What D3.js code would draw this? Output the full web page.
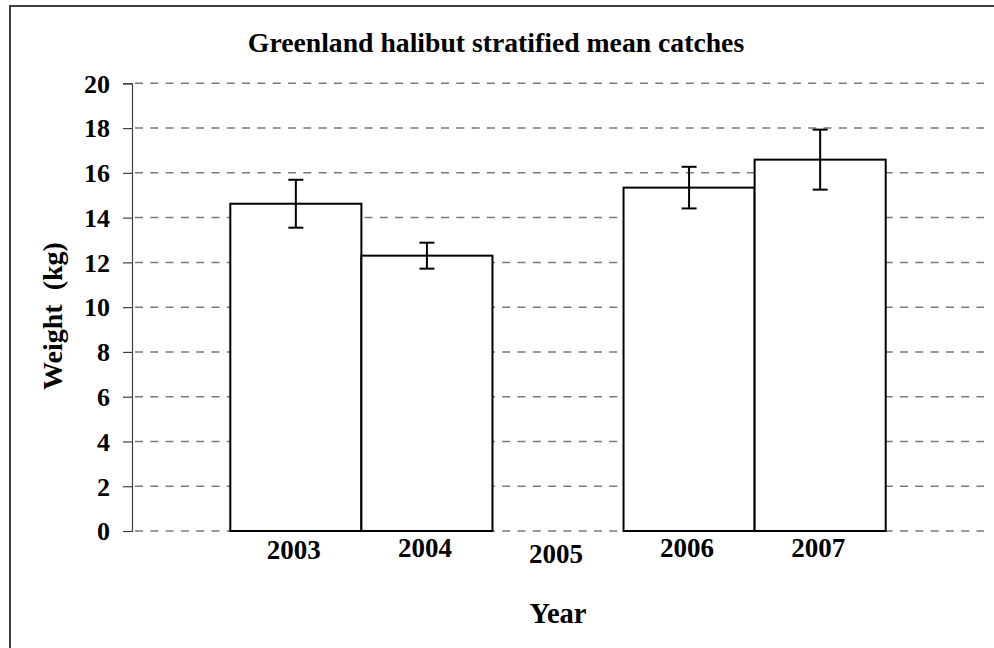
<!DOCTYPE html>
<html>
<head>
<meta charset="utf-8">
<script src="https://cdn.jsdelivr.net/npm/d3@7"></script>
<style>
  html, body { margin: 0; padding: 0; background: #fff; }
  svg { display: block; }
  text { font-family: "Liberation Serif", "Times New Roman", serif; font-weight: bold; fill: #000; }
</style>
</head>
<body>
<svg id="chart" width="994" height="648"></svg>
<script>
// Survey years and stratified mean catch weight (kg) with error (± kg)
const years = ["2003", "2004", "2005", "2006", "2007"];
const meanWeight = [14.62, 12.30, null, 15.34, 16.59];
const errorWeight = [1.07, 0.58, null, 0.93, 1.34];
const yTicks = [0, 2, 4, 6, 8, 10, 12, 14, 16, 18, 20];

const chartTitle = "Greenland halibut stratified mean catches";
const yTitle = "Weight  (kg)";
const xTitle = "Year";

const svg = d3.select("#chart");

// outer frame
svg.append("rect")
  .attr("x", 10).attr("y", 6)
  .attr("width", 1000).attr("height", 660)
  .attr("fill", "#fff")
  .attr("stroke", "#404040").attr("stroke-width", 2);

const plot = { left: 132, right: 984, top: 83.3, bottom: 531 };

const x = d3.scaleBand()
  .domain(years)
  .range([plot.left, plot.right])
  .paddingInner(0)
  .paddingOuter(0.75);

const y = d3.scaleLinear()
  .domain([0, 20])
  .range([plot.bottom, plot.top]);

// dashed horizontal gridlines
svg.append("g")
  .selectAll("line")
  .data(yTicks)
  .join("line")
  .attr("x1", plot.left).attr("x2", plot.right)
  .attr("y1", d => y(d)).attr("y2", d => y(d))
  .attr("stroke", "#7a7a7a")
  .attr("stroke-width", 1.5)
  .attr("stroke-dasharray", "8,7.3")
  .attr("stroke-dashoffset", -3);

// y axis
const yAxis = d3.axisLeft(y)
  .tickValues(yTicks)
  .tickSize(9)
  .tickPadding(13)
  .tickFormat(d3.format("d"));

const gy = svg.append("g")
  .attr("transform", `translate(${plot.left},0)`)
  .call(yAxis);
gy.select(".domain").attr("stroke", "#404040").attr("stroke-width", 1.2);
gy.selectAll(".tick line").attr("stroke", "#404040").attr("stroke-width", 1.2);
gy.selectAll(".tick text")
  .attr("font-size", 26)
  .attr("font-family", "Liberation Serif, Times New Roman, serif")
  .attr("font-weight", "bold")
  .attr("fill", "#000")
  .attr("dy", "0.34em");

// bars
const rows = years.map((yr, i) => ({ year: yr, value: meanWeight[i], err: errorWeight[i] }))
  .filter(d => d.value != null);

svg.append("g")
  .selectAll("rect")
  .data(rows)
  .join("rect")
  .attr("x", d => x(d.year))
  .attr("y", d => y(d.value))
  .attr("width", x.bandwidth())
  .attr("height", d => y(0) - y(d.value))
  .attr("fill", "#fff")
  .attr("stroke", "#000")
  .attr("stroke-width", 2);

// error bars
const capHalf = 7.5;
const eb = svg.append("g").attr("stroke", "#000").attr("stroke-width", 2);
rows.forEach(d => {
  const cx = x(d.year) + x.bandwidth() / 2;
  eb.append("line").attr("x1", cx).attr("x2", cx)
    .attr("y1", y(d.value + d.err)).attr("y2", y(d.value - d.err));
  eb.append("line").attr("x1", cx - capHalf).attr("x2", cx + capHalf)
    .attr("y1", y(d.value + d.err)).attr("y2", y(d.value + d.err));
  eb.append("line").attr("x1", cx - capHalf).attr("x2", cx + capHalf)
    .attr("y1", y(d.value - d.err)).attr("y2", y(d.value - d.err));
});

// category labels (a few sit slightly lower)
const labelDrop = { "2003": 2, "2005": 6 };
svg.append("g")
  .selectAll("text")
  .data(years)
  .join("text")
  .attr("x", d => x(d) + x.bandwidth() / 2 - 2)
  .attr("y", d => 557 + (labelDrop[d] || 0))
  .attr("text-anchor", "middle")
  .attr("font-size", 27)
  .text(d => d);

// titles
svg.append("text")
  .attr("x", 496).attr("y", 52)
  .attr("text-anchor", "middle")
  .attr("font-size", 27.7)
  .text(chartTitle);

svg.append("text")
  .attr("transform", "translate(62,316) rotate(-90)")
  .attr("text-anchor", "middle")
  .attr("font-size", 28)
  .attr("xml:space", "preserve")
  .style("white-space", "pre")
  .text(yTitle);

svg.append("text")
  .attr("x", 558).attr("y", 623)
  .attr("text-anchor", "middle")
  .attr("font-size", 28.5)
  .text(xTitle);
</script>
</body>
</html>
